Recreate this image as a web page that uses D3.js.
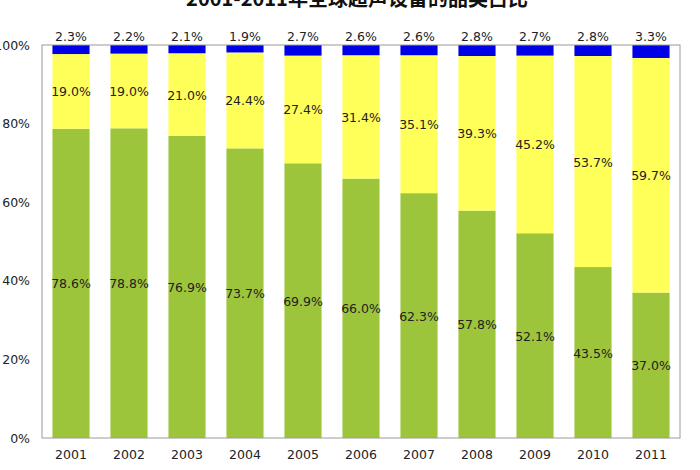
<!DOCTYPE html>
<html>
<head>
<meta charset="utf-8">
<script src="https://cdn.jsdelivr.net/npm/d3@7"></script>
<style>
html,body{margin:0;padding:0;background:#fff;}
svg{display:block;}
</style>
</head>
<body>
<svg id="chart" width="700" height="470"></svg>
<script>
const title = "2001-2011年全球超声设备的品类占比";
const years = ["2001","2002","2003","2004","2005","2006","2007","2008","2009","2010","2011"];
const greenValues = [78.6,78.8,76.9,73.7,69.9,66.0,62.3,57.8,52.1,43.5,37.0];
const yellowValues = [19.0,19.0,21.0,24.4,27.4,31.4,35.1,39.3,45.2,53.7,59.7];
const blueValues = [2.3,2.2,2.1,1.9,2.7,2.6,2.6,2.8,2.7,2.8,3.3];
const yTicks = [0,0.2,0.4,0.6,0.8,1.0];
const seriesKeys = ["green","yellow","blue"];
const colors = {green:"#9dc53b", yellow:"#ffff5a", blue:"#0000e6"};

const rows = years.map((y,i)=>({year:y, green:greenValues[i], yellow:yellowValues[i], blue:blueValues[i]}));
const svg = d3.select("#chart");
const m = {left:42, right:20, top:45, bottom:32};
const W = 700, H = 470;
const x = d3.scaleBand().domain(years).range([m.left, W - m.right]).paddingInner(0.36).paddingOuter(0.18);
const y = d3.scaleLinear().domain([0,1]).range([H - m.bottom, m.top]);
const stack = d3.stack().keys(seriesKeys).offset(d3.stackOffsetExpand);
const series = stack(rows);
const font = "'DejaVu Sans', sans-serif";

svg.append("text").attr("x", 357).attr("y", 6).attr("text-anchor","middle")
  .attr("font-family","'Noto Sans CJK SC', sans-serif").attr("font-weight","bold").attr("font-size",20)
  .attr("fill","#111").text(title);

// bars
const g = svg.append("g");
series.forEach(s => {
  g.selectAll(null).data(s).enter().append("rect")
    .attr("x", d => x(d.data.year))
    .attr("width", x.bandwidth())
    .attr("y", d => y(d[1]))
    .attr("height", d => y(d[0]) - y(d[1]))
    .attr("fill", colors[s.key]);
});

// frame
svg.append("rect").attr("x", m.left).attr("y", m.top).attr("width", W - m.right - m.left).attr("height", H - m.bottom - m.top)
  .attr("fill","none").attr("stroke","#9a9a9a").attr("stroke-width",1);

// y axis
const yAxis = d3.axisLeft(y).tickValues(yTicks).tickFormat(d => Math.round(d*100) + "%").tickSize(0).tickPadding(12);
const ya = svg.append("g").attr("transform", `translate(${m.left},0)`).call(yAxis);
ya.select(".domain").remove();
ya.selectAll("text").attr("font-family", font).attr("font-size",12.5).attr("fill","#222");

// x axis
const xAxis = d3.axisBottom(x).tickSize(0).tickPadding(12);
const xa = svg.append("g").attr("transform", `translate(0,${H - m.bottom})`).call(xAxis);
xa.select(".domain").remove();
xa.selectAll("text").attr("font-family", font).attr("font-size",12.5).attr("fill","#222");

// labels
const lbl = svg.append("g").attr("font-family", font).attr("font-size",12.5).attr("fill","#222").attr("text-anchor","middle");
series.forEach(s => {
  lbl.selectAll(null).data(s).enter().append("text")
    .attr("x", d => x(d.data.year) + x.bandwidth()/2)
    .attr("y", d => s.key === "blue" ? y(d[1]) - 4 : y((d[0]+d[1])/2) + 5)
    .text(d => d.data[s.key].toFixed(1) + "%");
});
</script>
</body>
</html>
